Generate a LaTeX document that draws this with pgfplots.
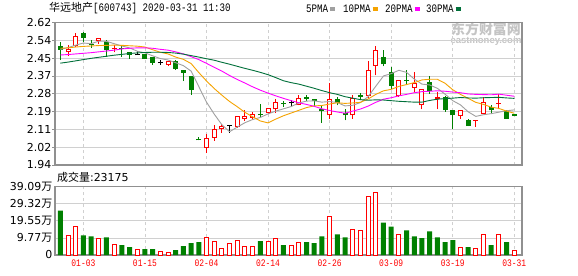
\documentclass[border=0pt]{standalone}
\usepackage{fontspec}
\setmainfont{DejaVu Sans}
\newfontfamily\cjk{Noto Sans CJK SC}
\newfontfamily\mono[FakeStretch=0.8]{Liberation Mono}
\newfontfamily\arial{Liberation Sans}
\usepackage{pgfplots}
\usepackage{pgfplotstable}
\pgfplotsset{compat=1.18}
\definecolor{cred}{HTML}{FF0000}
\definecolor{cgreen}{HTML}{008000}
\definecolor{ma5}{HTML}{A0A0A0}
\definecolor{ma10}{HTML}{F5A300}
\definecolor{ma20}{HTML}{FF00FF}
\definecolor{ma30}{HTML}{00703A}
\definecolor{gridc}{HTML}{D0D0D0}
\definecolor{framec}{HTML}{909090}
\definecolor{wm}{HTML}{C4C4C4}

% hollow red candles
\pgfplotstableread{
i o h l c
1 2.477 2.515 2.459 2.493
2 2.509 2.569 2.504 2.555
5 2.533 2.547 2.518 2.547
14 2.419 2.435 2.411 2.435
19 2.023 2.087 1.999 2.067
20 2.071 2.130 2.055 2.110
21 2.114 2.134 2.094 2.128
23 2.122 2.173 2.117 2.173
24 2.161 2.201 2.150 2.173
25 2.165 2.193 2.158 2.184
27 2.188 2.211 2.181 2.211
28 2.206 2.254 2.190 2.239
31 2.225 2.273 2.225 2.262
35 2.177 2.329 2.161 2.254
38 2.177 2.273 2.161 2.260
40 2.268 2.437 2.260 2.392
41 2.413 2.509 2.368 2.488
44 2.270 2.345 2.265 2.345
46 2.308 2.384 2.289 2.329
47 2.225 2.302 2.206 2.302
52 2.174 2.201 2.161 2.201
55 2.185 2.265 2.181 2.241
}\redh
% small red candles (filled)
\pgfplotstableread{
i o h l c
7 2.493 2.512 2.477 2.499
49 2.257 2.289 2.206 2.265
54 2.152 2.157 2.122 2.157
57 2.230 2.281 2.206 2.236
}\reds
% green candles
\pgfplotstableread{
i o h l c
0 2.508 2.527 2.441 2.490
3 2.571 2.573 2.528 2.548
4 2.518 2.536 2.499 2.512
6 2.528 2.536 2.456 2.490
8 2.499 2.512 2.456 2.493
9 2.480 2.480 2.448 2.467
11 2.470 2.470 2.445 2.448
12 2.455 2.455 2.419 2.429
15 2.437 2.440 2.395 2.397
16 2.392 2.392 2.340 2.380
17 2.365 2.365 2.276 2.297
18 2.063 2.074 2.058 2.058
26 2.184 2.232 2.165 2.177
29 2.235 2.244 2.219 2.230
32 2.265 2.276 2.244 2.257
33 2.254 2.254 2.217 2.246
34 2.205 2.225 2.142 2.197
36 2.257 2.265 2.225 2.238
37 2.190 2.206 2.153 2.177
39 2.273 2.284 2.254 2.263
42 2.456 2.490 2.411 2.420
43 2.384 2.407 2.305 2.316
45 2.348 2.392 2.321 2.340
48 2.337 2.365 2.281 2.292
50 2.265 2.270 2.193 2.201
51 2.201 2.201 2.114 2.177
53 2.154 2.158 2.125 2.125
56 2.217 2.228 2.190 2.201
58 2.196 2.201 2.161 2.161
59 2.185 2.185 2.174 2.174
}\grn
% black doji candles
\pgfplotstableread{
i o h l c
10 2.466 2.486 2.466 2.466
13 2.429 2.442 2.419 2.429
22 2.128 2.128 2.094 2.128
30 2.236 2.252 2.220 2.236
}\blk
% moving averages
\pgfplotstableread{
i m5 m10 m20 m30
0 2.492 2.497 2.465 2.426
1 2.500 2.499 2.467 2.431
2 2.512 2.503 2.470 2.437
3 2.522 2.506 2.473 2.443
4 2.519 2.508 2.476 2.449
5 2.531 2.510 2.480 2.454
6 2.530 2.511 2.484 2.459
7 2.519 2.512 2.488 2.464
8 2.508 2.511 2.494 2.468
9 2.499 2.509 2.497 2.472
10 2.483 2.507 2.499 2.475
11 2.475 2.503 2.499 2.477
12 2.461 2.490 2.497 2.478
13 2.448 2.478 2.492 2.478
14 2.441 2.470 2.488 2.477
15 2.428 2.455 2.480 2.474
16 2.414 2.444 2.470 2.469
17 2.388 2.424 2.457 2.462
18 2.314 2.381 2.443 2.455
19 2.240 2.341 2.425 2.447
20 2.183 2.305 2.406 2.440
21 2.132 2.273 2.388 2.430
22 2.099 2.243 2.367 2.421
23 2.121 2.218 2.348 2.411
24 2.142 2.191 2.331 2.401
25 2.157 2.170 2.313 2.392
26 2.167 2.150 2.297 2.382
27 2.184 2.141 2.283 2.371
28 2.197 2.159 2.270 2.357
29 2.208 2.175 2.258 2.342
30 2.219 2.188 2.247 2.333
31 2.236 2.201 2.237 2.326
32 2.245 2.214 2.229 2.316
33 2.246 2.222 2.220 2.306
34 2.240 2.224 2.208 2.295
35 2.243 2.231 2.200 2.285
36 2.238 2.237 2.193 2.277
37 2.222 2.234 2.187 2.266
38 2.225 2.236 2.197 2.259
39 2.238 2.239 2.207 2.252
40 2.266 2.255 2.221 2.249
41 2.316 2.277 2.239 2.251
42 2.365 2.294 2.254 2.250
43 2.376 2.301 2.261 2.247
44 2.392 2.315 2.270 2.244
45 2.382 2.324 2.277 2.242
46 2.350 2.333 2.285 2.240
47 2.326 2.346 2.290 2.240
48 2.322 2.349 2.292 2.248
49 2.306 2.349 2.294 2.254
50 2.278 2.330 2.292 2.257
51 2.247 2.299 2.288 2.259
52 2.227 2.277 2.285 2.262
53 2.194 2.258 2.279 2.260
54 2.172 2.239 2.277 2.259
55 2.180 2.229 2.276 2.261
56 2.185 2.216 2.275 2.262
57 2.192 2.210 2.278 2.263
58 2.199 2.197 2.273 2.260
59 2.203 2.187 2.268 2.258
}\matab
% volume (10k shares)
\pgfplotstableread{
i v
1 11.3
2 16.3
5 9.4
7 6.0
10 3.4
13 2.1
14 1.5
19 10.1
20 7.9
21 3.9
22 6.8
23 8.3
24 5.1
25 5.1
27 7.9
28 9.6
30 5.4
31 7.1
35 21.8
38 14.7
39 13.9
40 33.6
41 35.9
44 11.6
52 4.5
54 3.8
55 11.6
57 11.6
59 2.3
}\volr
\pgfplotstableread{
i v
0 25.4
3 11.3
4 10.7
6 10.1
8 5.6
9 4.5
11 3.4
12 3.4
15 2.8
16 5.1
17 6.8
18 7.3
26 7.9
29 5.6
32 7.3
33 6.8
34 10.7
36 11.8
37 10.1
42 18.6
43 16.3
45 14.1
46 10.7
47 9.6
48 13.5
49 10.1
50 7.3
51 8.5
53 4.5
56 5.6
58 7.3
}\volg

\pgfplotsset{
  ebar/.style 2 args={draw=none, mark=none, forget plot,
    error bars/.cd, y dir=plus, y explicit, error mark=none,
    error bar style={line width=#1, draw=#2}},
  panel/.style={scale only axis, width=467bp, xmin=-0.69, xmax=60,
    axis line style={framec, line width=1.2bp},
    xtick={3,11,19,27,35,43,51,59},
    xmajorgrids, ymajorgrids,
    x grid style={gridc, dash pattern=on 3bp off 3bp, line width=0.8bp},
    y grid style={gridc, line width=0.8bp},
    xtick pos=bottom, ytick pos=left,
    tick align=outside,
    xtick style={draw=none},
    yticklabel style={font=\fontsize{11}{12}\selectfont, text=black, inner sep=1bp},
  },
}

\begin{document}
\begin{tikzpicture}
\path[use as bounding box, fill=white] (0,0) rectangle (578bp,-276bp);
% watermark
\node[text=wm, anchor=center, inner sep=0] at (486bp,-29bp) {\cjk\bfseries\fontsize{14}{14}\selectfont 东方财富网};
\node[text=wm, anchor=center, inner sep=0] at (486bp,-41.5bp) {\arial\bfseries\fontsize{9.5}{10}\selectfont eastmoney.com};
% title and legend
\node[anchor=west, inner sep=0] at (49bp,-8.5bp) {{\cjk\fontsize{11}{12}\selectfont 华远地产}{\mono\fontsize{11.5}{12}\selectfont[600743] 2020-03-31 11:30}};
\node[anchor=west, inner sep=0] at (306bp,-8.5bp) {\mono\fontsize{11.5}{12}\selectfont 5PMA\,\textcolor{ma5}{\rule[1.5bp]{5bp}{3.5bp}}};
\node[anchor=west, inner sep=0] at (343bp,-8.5bp) {\mono\fontsize{11.5}{12}\selectfont 10PMA\,\textcolor{ma10}{\rule[1.5bp]{5bp}{3.5bp}}};
\node[anchor=west, inner sep=0] at (385bp,-8.5bp) {\mono\fontsize{11.5}{12}\selectfont 20PMA\,\textcolor{ma20}{\rule[1.5bp]{5bp}{3.5bp}}};
\node[anchor=west, inner sep=0] at (426bp,-8.5bp) {\mono\fontsize{11.5}{12}\selectfont 30PMA\,\textcolor{ma30}{\rule[1.5bp]{5bp}{3.5bp}}};

\begin{axis}[panel,
  at={(55bp,-22.5bp)}, anchor=north west, height=142.5bp,
  ymin=1.94, ymax=2.62,
  xticklabels={},
  ytick={1.94,2.025,2.11,2.195,2.28,2.365,2.45,2.535,2.62},
  yticklabels={1.94,2.02,2.11,2.19,2.28,2.37,2.45,2.54,2.62},
  major tick length=2.5bp,
  ytick style={framec, line width=0.8bp},
]
% wicks
\addplot[ebar={1bp}{cred}] table[x=i, y=l, y error plus expr=\thisrow{h}-\thisrow{l}] {\redh};
\addplot[ebar={1bp}{cred}] table[x=i, y=l, y error plus expr=\thisrow{h}-\thisrow{l}] {\reds};
\addplot[ebar={1bp}{cgreen}] table[x=i, y=l, y error plus expr=\thisrow{h}-\thisrow{l}] {\grn};
\addplot[ebar={1bp}{black}] table[x=i, y=l, y error plus expr=\thisrow{h}-\thisrow{l}] {\blk};
% bodies
\addplot[ebar={5bp}{cred}] table[x=i, y=o, y error plus expr=\thisrow{c}-\thisrow{o}] {\redh};
\addplot[ebar={3bp}{white}] table[x=i, y expr=\thisrow{o}+0.0048, y error plus expr=\thisrow{c}-\thisrow{o}-0.0096] {\redh};
\addplot[ebar={5bp}{cred}] table[x=i, y=o, y error plus expr=\thisrow{c}-\thisrow{o}] {\reds};
\addplot[ebar={5bp}{cgreen}] table[x=i, y=c, y error plus expr=\thisrow{o}-\thisrow{c}] {\grn};
\addplot[ebar={5bp}{black}] table[x=i, y expr=\thisrow{o}-0.0024, y error plus expr=0.0048] {\blk};
% moving averages
\addplot[ma5, line width=0.9bp, mark=none] table[x=i, y=m5] {\matab};
\addplot[ma10, line width=0.9bp, mark=none] table[x=i, y=m10] {\matab};
\addplot[ma20, line width=0.9bp, mark=none] table[x=i, y=m20] {\matab};
\addplot[ma30, line width=0.9bp, mark=none] table[x=i, y=m30] {\matab};
\end{axis}

\node[anchor=west, inner sep=0] at (57bp,-177.5bp) {{\cjk\fontsize{11}{12}\selectfont 成交量}{\fontsize{11}{12}\selectfont :23175}};

\begin{axis}[panel,
  at={(55bp,-186.7bp)}, anchor=north west, height=68.3bp,
  ymin=0, ymax=39.09,
  xticklabels={01-03,01-15,02-04,02-14,02-26,03-09,03-19,03-31},
  xticklabel style={text=cred, font=\mono\fontsize{10}{11}\selectfont, inner sep=1bp, yshift=-2.5bp},
  ytick={0,9.77,19.55,29.32,39.09},
  yticklabels={0,9.77{\cjk 万},19.55{\cjk 万},29.32{\cjk 万},39.09{\cjk 万}},
  major tick length=1.5bp,
  ytick style={draw=none},
]
\addplot[ybar, bar width=5bp, bar shift=0bp, fill=cgreen, draw=none] table[x=i, y=v] {\volg};
\addplot[ybar, bar width=4bp, bar shift=0bp, fill=white, draw=cred, line width=1bp] table[x=i, y=v] {\volr};
\end{axis}
\end{tikzpicture}
\end{document}
